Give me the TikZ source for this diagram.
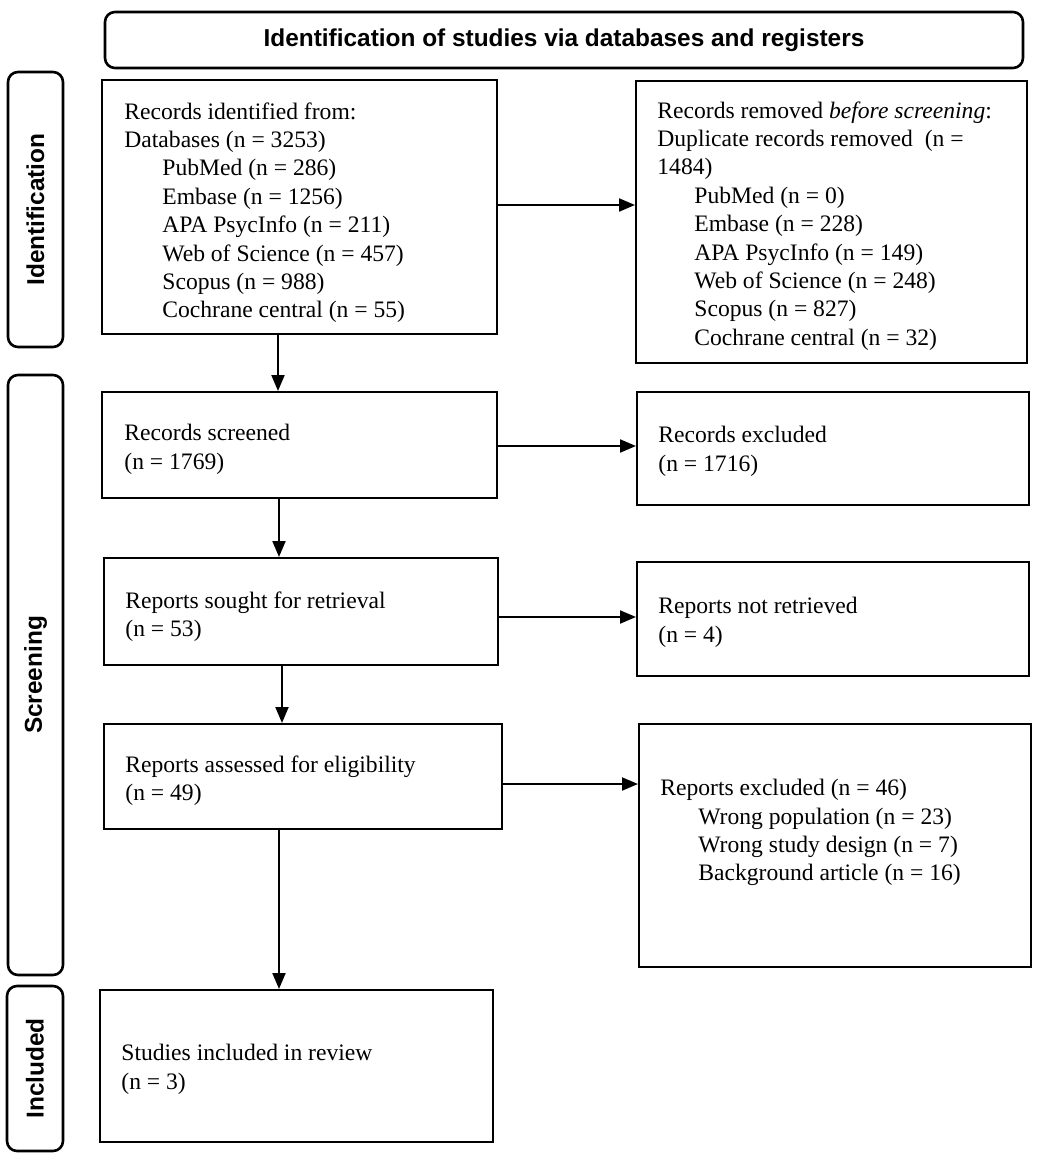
\documentclass[tikz,border=0pt]{standalone}
\usepackage{fontspec}
\setmainfont{Liberation Serif}
\newfontfamily\hdfont{Liberation Sans}
\usetikzlibrary{arrows.meta}
\begin{document}
\begin{tikzpicture}[x=0.5pt,y=-0.5pt,
  box/.style={draw, line width=1pt, inner sep=0pt},
  rbox/.style={draw, line width=1.3pt, rounded corners=5pt, inner sep=0pt,
    font=\hdfont\bfseries\fontsize{12.2}{14}\selectfont},
  txt/.style={anchor=north west, align=left, inner sep=0pt,
    font=\fontsize{11.8}{14.2}\selectfont},
  arr/.style={line width=1pt, -{Triangle[length=8pt,width=6.5pt]}}]
\useasboundingbox (0,0) rectangle (1063,1162);
% header and phase labels
\node[rbox, minimum width=459pt, minimum height=28pt] (head) at (564,40)
  {Identification of studies via databases and registers};
\node[rbox, rotate=90, minimum width=137.5pt, minimum height=27.5pt] (sid) at (35.5,209.5) {Identification};
\node[rbox, rotate=90, minimum width=300pt, minimum height=27.5pt] (sscr) at (35.5,675) {Screening};
\node[rbox, rotate=90, minimum width=82.5pt, minimum height=28pt] (sinc) at (35,1068.5) {Included};
% boxes
\node[box, minimum width=197.5pt, minimum height=127pt] (b1) at (299.5,207) {};
\node[box, minimum width=195.5pt, minimum height=141pt] (b2) at (831.5,222) {};
\node[box, minimum width=197.5pt, minimum height=53pt] (b3) at (299.5,445) {};
\node[box, minimum width=196pt, minimum height=56.5pt] (b4) at (833,448.5) {};
\node[box, minimum width=197pt, minimum height=53.5pt] (b5) at (301,611.5) {};
\node[box, minimum width=196pt, minimum height=57pt] (b6) at (833,619) {};
\node[box, minimum width=199pt, minimum height=52.5pt] (b7) at (303,776.5) {};
\node[box, minimum width=196pt, minimum height=121.5pt] (b8) at (835,845.5) {};
\node[box, minimum width=196.5pt, minimum height=76pt] (b9) at (296.5,1066) {};
% texts
\node[txt] (t1) at (124,102) {Records identified from:\\
Databases (n = 3253)\\
\hspace*{19pt}PubMed (n = 286)\\
\hspace*{19pt}Embase (n = 1256)\\
\hspace*{19pt}APA PsycInfo (n = 211)\\
\hspace*{19pt}Web of Science (n = 457)\\
\hspace*{19pt}Scopus (n = 988)\\
\hspace*{19pt}Cochrane central (n = 55)};
\node[txt] (t2) at (657,101) {Records removed \textit{before screening}:\\
Duplicate records removed~~(n =\\
1484)\\
\hspace*{18.5pt}PubMed (n = 0)\\
\hspace*{18.5pt}Embase (n = 228)\\
\hspace*{18.5pt}APA PsycInfo (n = 149)\\
\hspace*{18.5pt}Web of Science (n = 248)\\
\hspace*{18.5pt}Scopus (n = 827)\\
\hspace*{18.5pt}Cochrane central (n = 32)};
\node[txt] (t3) at (124,424) {Records screened\\(n = 1769)};
\node[txt] (t4) at (658,426) {Records excluded\\(n = 1716)};
\node[txt] (t5) at (125,591) {Reports sought for retrieval\\(n = 53)};
\node[txt] (t6) at (658,597) {Reports not retrieved\\(n = 4)};
\node[txt] (t7) at (125,755) {Reports assessed for eligibility\\(n = 49)};
\node[txt] (t8) at (660,779) {Reports excluded (n = 46)\\
\hspace*{19pt}Wrong population (n = 23)\\
\hspace*{19pt}Wrong study design (n = 7)\\
\hspace*{19pt}Background article (n = 16)};
\node[txt] (t9) at (121,1044) {Studies included in review\\(n = 3)};
% connectors
\draw[arr] (b1.south -| 278,0) -- (b3.north -| 278,0);
\draw[arr] (b3.south -| 279,0) -- (b5.north -| 279,0);
\draw[arr] (b5.south -| 282,0) -- (b7.north -| 282,0);
\draw[arr] (b7.south -| 279,0) -- (b9.north -| 279,0);
\draw[arr] (b1.east |- 0,205) -- (b2.west |- 0,205);
\draw[arr] (b3.east |- 0,446) -- (b4.west |- 0,446);
\draw[arr] (b5.east |- 0,617) -- (b6.west |- 0,617);
\draw[arr] (b7.east |- 0,784) -- (b8.west |- 0,784);
\end{tikzpicture}
\end{document}
